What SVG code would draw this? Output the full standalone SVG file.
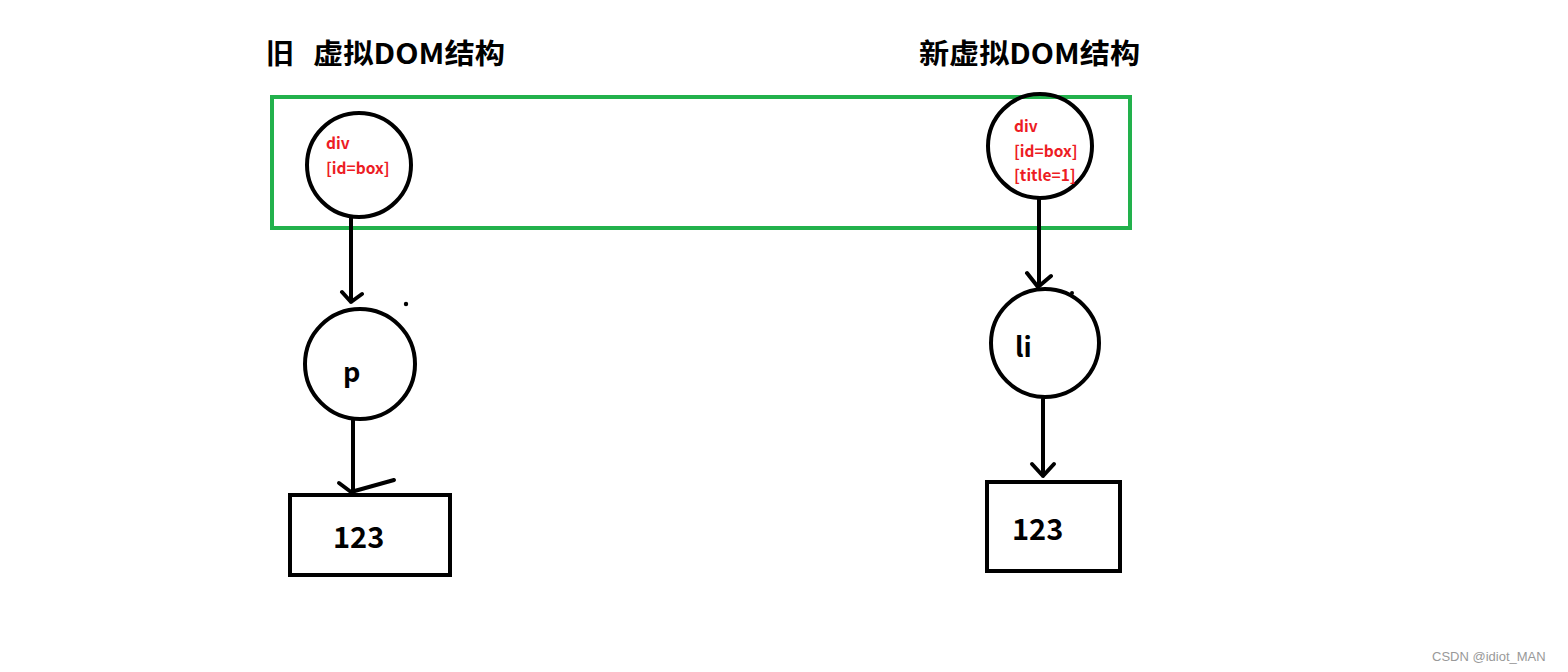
<svg xmlns="http://www.w3.org/2000/svg" width="1568" height="672" viewBox="0 0 1568 672">
<style>
.nd{fill:none;stroke:#000;stroke-width:4}
.ln{fill:none;stroke:#000;stroke-width:4;stroke-linecap:round;stroke-linejoin:round}
.t{font-family:"Noto Sans CJK SC","Liberation Sans",sans-serif;font-weight:bold;fill:#000}
.r{font-family:"Noto Sans CJK SC","Liberation Sans",sans-serif;font-weight:bold;fill:#ed1c24;font-size:15.5px}
</style>
<rect width="1568" height="672" fill="#fff"/>
<text class="t" x="266" y="64" font-size="28">旧</text>
<text class="t" x="313" y="64" font-size="28" textLength="192" lengthAdjust="spacingAndGlyphs">虚拟DOM结构</text>
<text class="t" x="919" y="64" font-size="28" textLength="221" lengthAdjust="spacingAndGlyphs">新虚拟DOM结构</text>
<rect x="272" y="97" width="858" height="131" fill="none" stroke="#22b14c" stroke-width="4"/>
<g id="connectors">
<path class="ln" d="M351 218V302M342 292L351 302L362 294"/>
<path class="ln" d="M353 420V491M339 483L351 492L394 480"/>
<path class="ln" d="M1039 198V286M1027 273L1038 287L1051 276"/>
<path class="ln" d="M1043 399V476M1032 464L1043 476L1054 464"/>
</g>
<circle cx="406" cy="304" r="2.2" fill="#000"/>
<circle cx="1072" cy="293" r="2" fill="#000"/>
<g id="old-div">
<circle class="nd" cx="359" cy="165" r="52"/>
<text class="r" x="326" y="149">div</text>
<text class="r" x="326" y="174">[id=box]</text>
</g>
<g id="new-div">
<circle class="nd" cx="1040" cy="146" r="52"/>
<text class="r" x="1014" y="132">div</text>
<text class="r" x="1014" y="157">[id=box]</text>
<text class="r" x="1014" y="181">[title=1]</text>
</g>
<g id="old-p">
<circle class="nd" cx="360" cy="364" r="55"/>
<text class="t" x="343" y="382" font-size="27">p</text>
</g>
<g id="new-li">
<circle class="nd" cx="1045" cy="343" r="54"/>
<text class="t" x="1015" y="357" font-size="27">li</text>
</g>
<g id="old-text">
<rect class="nd" x="290" y="495" width="160" height="80"/>
<text class="t" x="333" y="548" font-size="29">123</text>
</g>
<g id="new-text">
<rect class="nd" x="987" y="482" width="133" height="89"/>
<text class="t" x="1012" y="540" font-size="29">123</text>
</g>
<text x="1432" y="661" font-family="Liberation Sans,sans-serif" font-size="13" fill="#999">CSDN @idiot_MAN</text>
</svg>
